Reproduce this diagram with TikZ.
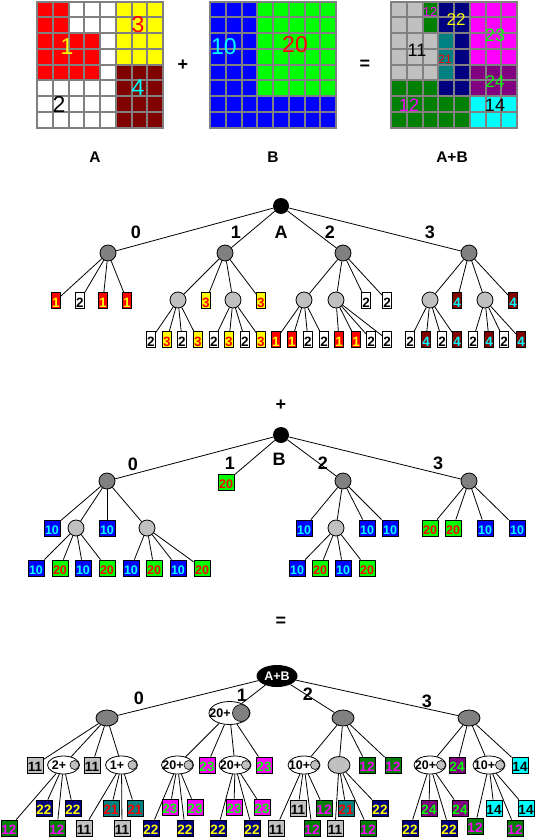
\documentclass[tikz,border=0pt]{standalone}
\usepackage{fontspec}
\setmainfont{Liberation Sans}
\usetikzlibrary{shapes.geometric}
\definecolor{dgray}{HTML}{808080}
\definecolor{gridgray}{HTML}{808080}
\definecolor{lgray}{HTML}{C0C0C0}
\definecolor{cred}{HTML}{FF0000}
\definecolor{cyel}{HTML}{FFFF00}
\definecolor{cdred}{HTML}{800000}
\definecolor{ccyan}{HTML}{00FFFF}
\definecolor{cblue}{HTML}{0000FF}
\definecolor{cgreen}{HTML}{00FF00}
\definecolor{cdgreen}{HTML}{008000}
\definecolor{cnavy}{HTML}{000080}
\definecolor{cteal}{HTML}{008080}
\definecolor{cmag}{HTML}{FF00FF}
\definecolor{cpurp}{HTML}{800080}
\colorlet{fA1}{cred}\colorlet{tA1}{cyel}
\colorlet{fA2}{white}\colorlet{tA2}{black}
\colorlet{fA3}{cyel}\colorlet{tA3}{cred}
\colorlet{fA4}{cdred}\colorlet{tA4}{ccyan}
\colorlet{fB10}{cblue}\colorlet{tB10}{ccyan}
\colorlet{fB20}{cgreen}\colorlet{tB20}{cred}
\colorlet{fS11}{lgray}\colorlet{tS11}{black}
\colorlet{fS12}{cdgreen}\colorlet{tS12}{cmag}
\colorlet{fS21}{cteal}\colorlet{tS21}{cred}
\colorlet{fS22}{cnavy}\colorlet{tS22}{cyel}
\colorlet{fS23}{cmag}\colorlet{tS23}{cgreen}
\colorlet{fS24}{cpurp}\colorlet{tS24}{cgreen}
\colorlet{fS14}{ccyan}\colorlet{tS14}{black}
\newcommand\fleaf{\fontsize{13.5}{13.5}\selectfont\bfseries}
\newcommand\fleafb{\fontsize{12.5}{12.5}\selectfont\bfseries}
\newcommand\fpl{\fontsize{12.5}{12.5}\selectfont\bfseries}
\newcommand\flab{\fontsize{18}{18}\selectfont\bfseries}
\newcommand\fcap{\fontsize{15.5}{15.5}\selectfont\bfseries}
\newcommand\fsroot{\fontsize{12.5}{12.5}\selectfont\bfseries}
\newcommand\fgrid[1]{\fontsize{#1}{#1}\selectfont}
\newcommand\gridreg[7]{\fill[#7] ({#1+#3*15.75},{#2+#4*15.75}) rectangle ++({#5*15.75},{#6*15.75});}
\newcommand\gridlns[2]{\foreach \i in {0,...,8}{\draw[gline] ({#1+\i*15.75},#2) -- ++(0,126); \draw[gline] (#1,{#2+\i*15.75}) -- ++(126,0);}}
\begin{document}
\begin{tikzpicture}[x=1pt,y=-1pt,
 edge/.style={draw=black,line width=0.8pt},
 gline/.style={draw=gridgray,line width=2pt,line cap=rect},
 rootc/.style={circle,fill=black,minimum size=16,inner sep=0},
 dcirc/.style={circle,draw=black,fill=dgray,minimum size=16,inner sep=0,line width=0.8pt},
 lcirc/.style={circle,draw=black,fill=lgray,minimum size=16,inner sep=0,line width=0.8pt},
 aleaf/.style={rectangle,draw=black,line width=0.8pt,minimum width=9,minimum height=16,inner sep=0,fill=fA#1,text=tA#1,font=\fleaf,text height=13,text depth=0},
 bleaf/.style={rectangle,draw=black,line width=0.8pt,minimum width=16,minimum height=16,inner sep=0,fill=fB#1,text=tB#1,font=\fleafb,text height=12.5,text depth=0},
 sleaf/.style={rectangle,draw=black,line width=0.8pt,minimum width=16,minimum height=16,inner sep=0,fill=fS#1,text=tS#1,font=\fleaf,text height=13,text depth=0},
 dell/.style={ellipse,draw=black,line width=0.8pt,fill=dgray,minimum width=22,minimum height=16,inner sep=0},
 lell/.style={ellipse,draw=black,line width=0.8pt,fill=lgray,minimum width=22,minimum height=17,inner sep=0},
 well/.style={ellipse,draw=black,line width=0.8pt,fill=white,minimum width=32,minimum height=18,inner sep=0},
 wbig/.style={ellipse,draw=black,line width=0.8pt,fill=white,minimum width=41,minimum height=23,inner sep=0},
 sroot/.style={ellipse,fill=black,minimum width=41,minimum height=22,inner sep=0,text=white,font=\fsroot},
 smallc/.style={circle,draw=black,line width=0.6pt,fill=lgray,minimum size=9,inner sep=0},
 bigc/.style={circle,draw=black,line width=0.6pt,fill=dgray,minimum size=17,inner sep=0},
 ptext/.style={font=\fpl,inner sep=0},
 lab/.style={font=\flab,inner sep=0},
 captxt/.style={font=\fcap,inner sep=0},
 gtxt/.style={inner sep=0}
]
\useasboundingbox (0,0) rectangle (540,838);
\fill[white] (0,0) rectangle (540,838);

% ---------- grid A ----------
\gridreg{37}{1.5}{0}{0}{8}{8}{white}
\gridreg{37}{1.5}{0}{0}{2}{2}{cred}
\gridreg{37}{1.5}{0}{2}{4}{3}{cred}
\gridreg{37}{1.5}{5}{0}{3}{4}{cyel}
\gridreg{37}{1.5}{5}{4}{3}{4}{cdred}
\gridlns{37}{1.5}
\node[gtxt,text=cyel,font=\fgrid{23}] (gA1) at (67,47) {1};
\node[gtxt,text=cred,font=\fgrid{23}] (gA3) at (138,25) {3};
\node[gtxt,text=black,font=\fgrid{23}] (gA2) at (59,104) {2};
\node[gtxt,text=ccyan,font=\fgrid{23}] (gA4) at (138,88) {4};

% ---------- grid B ----------
\gridreg{210}{1.5}{0}{0}{8}{8}{cblue}
\gridreg{210}{1.5}{3}{0}{5}{6}{cgreen}
\gridlns{210}{1.5}
\node[gtxt,text=ccyan,font=\fgrid{23}] (gB10) at (224,47) {10};
\node[gtxt,text=cred,font=\fgrid{23}] (gB20) at (295,45) {20};

% ---------- grid A+B ----------
\gridreg{391}{1.5}{0}{0}{2}{2}{lgray}
\gridreg{391}{1.5}{0}{2}{3}{3}{lgray}
\gridreg{391}{1.5}{2}{0}{1}{2}{cdgreen}
\gridreg{391}{1.5}{0}{5}{3}{1}{cdgreen}
\gridreg{391}{1.5}{0}{6}{5}{2}{cdgreen}
\gridreg{391}{1.5}{3}{0}{2}{2}{cnavy}
\gridreg{391}{1.5}{4}{2}{1}{3}{cnavy}
\gridreg{391}{1.5}{3}{5}{2}{1}{cnavy}
\gridreg{391}{1.5}{3}{2}{1}{3}{cteal}
\gridreg{391}{1.5}{5}{0}{3}{4}{cmag}
\gridreg{391}{1.5}{5}{4}{3}{2}{cpurp}
\gridreg{391}{1.5}{5}{6}{3}{2}{ccyan}
\gridlns{391}{1.5}
\node[gtxt,text=cmag,font=\fgrid{13}] (gS12a) at (430,12) {12};
\node[gtxt,text=cyel,font=\fgrid{17}] (gS22) at (456,20) {22};
\node[gtxt,text=black,font=\fgrid{18}] (gS11) at (417,50) {11};
\node[gtxt,text=cred,font=\fgrid{12}] (gS21) at (445,59) {21};
\node[gtxt,text=cgreen,font=\fgrid{18}] (gS23) at (495,35) {23};
\node[gtxt,text=cgreen,font=\fgrid{17}] (gS24) at (495,82) {24};
\node[gtxt,text=cmag,font=\fgrid{18}] (gS12b) at (409,105) {12};
\node[gtxt,text=black,font=\fgrid{18}] (gS14) at (495,105) {14};

\node[lab] (opPlus1) at (183,65) {+};
\node[lab] (opEq1) at (365,65) {=};
\node[captxt] (capA) at (95,157) {A};
\node[captxt] (capB) at (273,157) {B};
\node[captxt] (capS) at (452,157) {A+B};

% ---------- tree A ----------
\node[rootc] (rA) at (281,206) {};
\node[lab] (rAl) at (281,232) {A};
\foreach \n/\x in {a0/108,a1/225,a2/343,a3/469}{\node[dcirc] (\n) at (\x,253) {}; \draw[edge] (rA) -- (\n);}
\node[lab] (la0) at (136,232) {0};
\node[lab] (la1) at (236,232) {1};
\node[lab] (la2) at (330,232) {2};
\node[lab] (la3) at (430,232) {3};
\foreach \n/\x/\p in {a1a/178/a1,a1c/233/a1,a2a/304/a2,a2b/336/a2,a3a/430/a3,a3c/485/a3}{\node[lcirc] (\n) at (\x,300) {}; \draw[edge] (\p) -- (\n);}
\foreach \n/\x/\v/\p in {a0a/56/1/a0,a0b/80/2/a0,a0c/103/1/a0,a0d/127/1/a0,a1b/206/3/a1,a1d/261/3/a1,a2c/366/2/a2,a2d/387/2/a2,a3b/457/4/a3,a3d/513/4/a3}{\node[aleaf=\v] (\n) at (\x,300.5) {\v}; \draw[edge] (\p) -- (\n);}
\foreach \n/\x/\v/\p in {
 a1aa/151/2/a1a,a1ab/167/3/a1a,a1ac/182/2/a1a,a1ad/198/3/a1a,
 a1ca/214/2/a1c,a1cb/229/3/a1c,a1cc/245/2/a1c,a1cd/261/3/a1c,
 a2aa/276/1/a2a,a2ab/292/1/a2a,a2ac/308/2/a2a,a2ad/324/2/a2a,
 a2ba/339/1/a2b,a2bb/356/1/a2b,a2bc/371/2/a2b,a2bd/387/2/a2b,
 a3aa/410/2/a3a,a3ab/426/4/a3a,a3ac/442/2/a3a,a3ad/457/4/a3a,
 a3ca/473/2/a3c,a3cb/489/4/a3c,a3cc/504/2/a3c,a3cd/521/4/a3c}{\node[aleaf=\v] (\n) at (\x,339.5) {\v}; \draw[edge] (\p) -- (\n);}

\node[lab] (opPlus2) at (281,405) {+};

% ---------- tree B ----------
\node[rootc] (rB) at (281,435) {};
\node[lab] (rBl) at (279,459) {B};
\foreach \n/\x in {b0/107,b2/343,b3/469}{\node[dcirc] (\n) at (\x,481) {}; \draw[edge] (rB) -- (\n);}
\node[bleaf=20] (b1) at (226,482) {20};
\draw[edge] (rB) -- (b1);
\node[lab] (lb0) at (133,464) {0};
\node[lab] (lb1) at (230,463) {1};
\node[lab] (lb2) at (323,463) {2};
\node[lab] (lb3) at (438,463) {3};
\foreach \n/\x/\p in {b0b/76/b0,b0d/147/b0,b2b/336/b2}{\node[lcirc] (\n) at (\x,528) {}; \draw[edge] (\p) -- (\n);}
\foreach \n/\x/\v/\p in {b0a/52/10/b0,b0c/107/10/b0,b2a/304/10/b2,b2c/367/10/b2,b2d/390/10/b2,b3a/430/20/b3,b3b/453/20/b3,b3c/485/10/b3,b3d/517/10/b3}{\node[bleaf=\v] (\n) at (\x,528) {\v}; \draw[edge] (\p) -- (\n);}
\foreach \n/\x/\v/\p in {
 b0ba/36/10/b0b,b0bb/60/20/b0b,b0bc/83/10/b0b,b0bd/107/20/b0b,
 b0da/131/10/b0d,b0db/154/20/b0d,b0dc/178/10/b0d,b0dd/202/20/b0d,
 b2ba/297/10/b2b,b2bb/320/20/b2b,b2bc/343/10/b2b,b2bd/367/20/b2b}{\node[bleaf=\v] (\n) at (\x,568) {\v}; \draw[edge] (\p) -- (\n);}

\node[lab] (opEq2) at (281,622) {=};

% ---------- tree A+B ----------
\node[sroot] (rS) at (277,676) {A+B};
\node[dell] (s0) at (107,718) {};
\node[wbig] (s1) at (229.5,713) {};
\node[ptext] (s1-t) at (220,713) {20+};
\node[bigc] (s1-c) at (241,713) {};
\node[dell] (s2) at (343,718) {};
\node[dell] (s3) at (469,718) {};
\foreach \n in {s0,s1,s2,s3}{\draw[edge] (rS) -- (\n);}
\node[lab] (ls0) at (139,698) {0};
\node[lab] (ls1) at (242,695) {1};
\node[lab] (ls2) at (308,694) {2};
\node[lab] (ls3) at (427,701) {3};
\foreach \n/\x/\t/\p in {s01/63.5/2+/s0,s03/121.5/1+/s0,s10/177.5/20+/s1,s12/235/20+/s1,s20/304/10+/s2,s30/430/20+/s3,s32/489/10+/s3}{
 \node[well] (\n) at (\x,765) {};
 \node[ptext] (\n-t) at ({\x-4.5},765) {\t};
 \node[smallc] (\n-c) at ({\x+11},765) {};
 \draw[edge] (\p) -- (\n);}
\node[lell] (s21) at (339,765) {};
\draw[edge] (s2) -- (s21);
\foreach \n/\x/\v/\p in {s0a/35/11/s0,s0c/92/11/s0,s1b/207/23/s1,s1d/264/23/s1,s2c/367/12/s2,s2d/393/12/s2,s3b/457/24/s3,s3d/520/14/s3}{\node[sleaf=\v] (\n) at (\x,765) {\v}; \draw[edge] (\p) -- (\n);}
\foreach \n/\x/\y/\v/\p in {
 s01a/9/828/12/s01,s01b/44/808/22/s01,s01c/57/828/12/s01,s01d/73/808/22/s01,
 s03a/84/828/11/s03,s03b/111/808/21/s03,s03c/122/828/11/s03,s03d/135/808/21/s03,
 s10a/151/828/22/s10,s10b/170/807/23/s10,s10c/185/828/22/s10,s10d/195/807/23/s10,
 s12a/218/828/22/s12,s12b/234/807/23/s12,s12c/252/828/22/s12,s12d/262/807/23/s12,
 s20a/276/828/11/s20,s20b/298/808/11/s20,s20c/312/828/12/s20,s20d/324/808/12/s20,
 s21a/335/828/11/s21,s21b/346/808/21/s21,s21c/368/828/12/s21,s21d/380/808/22/s21,
 s30a/410/828/22/s30,s30b/429/808/24/s30,s30c/449/828/22/s30,s30d/460/808/24/s30,
 s32a/475/826/12/s32,s32b/494/808/14/s32,s32c/515/828/12/s32,s32d/526/808/14/s32}{\node[sleaf=\v] (\n) at (\x,\y) {\v}; \draw[edge] (\p) -- (\n);}
\end{tikzpicture}
\end{document}
